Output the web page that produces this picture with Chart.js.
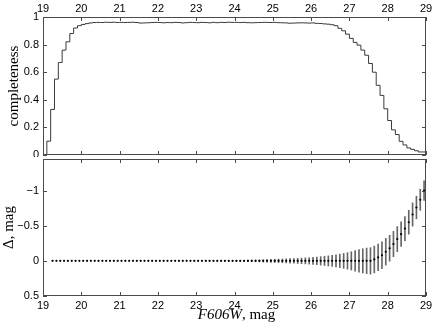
<!DOCTYPE html>
<html>
<head>
<meta charset="utf-8">
<script src="https://cdn.jsdelivr.net/npm/chart.js@4.4.0/dist/chart.umd.min.js"></script>
<style>
  body { margin: 0; background: #fff; }
  #wrap { position: relative; width: 436px; height: 329px; }
  .panel { position: absolute; left: 0; }
  #top { top: 0; }
  #bot { top: 155px; }
</style>
</head>
<body>
<div id="wrap">
  <div class="panel" id="top"><canvas id="compChart" width="436" height="157"></canvas></div>
  <div class="panel" id="bot"><canvas id="deltaChart" width="436" height="174"></canvas></div>
</div>
<script>
// bins of 0.1 mag from 19.0 to 29.0
var magStart = 19.0;
var binWidth = 0.1;
var magTicks = [19, 20, 21, 22, 23, 24, 25, 26, 27, 28, 29];
var compTicks = [0, 0.2, 0.4, 0.6, 0.8, 1];
var deltaTicks = [-1, -0.5, 0, 0.5];

// completeness per bin (19.0 ... 28.9)
var completeness = [
    0, 0, 0.10, 0.33, 0.55, 0.67, 0.76, 0.82, 0.88, 0.92,
    0.937, 0.946, 0.952, 0.957, 0.960,
    0.961, 0.960, 0.962, 0.961, 0.962, 0.960, 0.961, 0.960, 0.961, 0.962,
    0.960, 0.956, 0.957, 0.958, 0.960, 0.961, 0.960, 0.958, 0.960, 0.959,
    0.961, 0.960, 0.957, 0.959, 0.961, 0.960, 0.959, 0.961, 0.960, 0.958,
    0.961, 0.959, 0.961, 0.960, 0.962, 0.961, 0.961, 0.960, 0.961, 0.959,
    0.958, 0.959, 0.960, 0.961, 0.961, 0.960, 0.961, 0.959, 0.958, 0.957,
    0.955, 0.956, 0.957, 0.958, 0.957, 0.956, 0.957, 0.954, 0.953, 0.950,
    0.948, 0.944,
    0.937, 0.918, 0.900, 0.876, 0.845, 0.816, 0.796, 0.760, 0.723, 0.663,
    0.600, 0.505, 0.432, 0.335, 0.250, 0.182, 0.148, 0.099, 0.073, 0.051,
    0.041, 0.031, 0.022
];

// magnitude offset and its error at bin centres (19.25 ... 28.95)
var deltaStart = 19.25;
var deltaMag = [
    0, 0, 0, 0, 0, 0, 0, 0, 0, 0,
    0, 0, 0, 0, 0, 0, 0, 0, 0, 0,
    0, 0, 0, 0, 0, 0, 0, 0, 0, 0,
    0, 0, 0, 0, 0, 0, 0, 0, 0, 0,
    0, 0, 0, 0, 0, 0, 0, 0, 0, 0,
    0, 0, 0, 0, 0, 0, 0, 0, 0, 0,
    0, 0, 0, 0, 0, 0, 0, 0, 0, 0,
    0, 0, 0, 0, 0, 0, 0, 0, 0, 0,
    0, 0, 0, 0, -0.02, -0.05, -0.08, -0.13, -0.18, -0.24,
    -0.31, -0.38, -0.46, -0.55, -0.66, -0.76, -0.87, -1.0
];
var deltaErr = [
    0, 0, 0, 0, 0, 0, 0, 0, 0, 0,
    0, 0, 0, 0, 0, 0, 0, 0, 0, 0,
    0, 0, 0, 0, 0, 0, 0, 0, 0, 0,
    0, 0, 0, 0, 0, 0, 0, 0, 0, 0,
    0.003, 0.003, 0.004, 0.004, 0.005, 0.005, 0.006, 0.006,
    0.007, 0.008, 0.009, 0.010, 0.012, 0.013, 0.015, 0.017, 0.019, 0.021,
    0.023, 0.025, 0.027, 0.029, 0.031, 0.034, 0.037, 0.040, 0.043, 0.046,
    0.050, 0.055, 0.060, 0.066, 0.072, 0.079, 0.087, 0.096, 0.106, 0.117,
    0.130, 0.145, 0.160, 0.172, 0.182, 0.188, 0.190, 0.190, 0.190, 0.190,
    0.185, 0.180, 0.178, 0.175, 0.172, 0.170, 0.165, 0.160, 0.150, 0.140
];

var tickFont = { family: '"Liberation Sans", Arial, sans-serif', size: 11 };
var serif = '"Liberation Serif", "Times New Roman", serif';

// step line points: left edge of each bin, plus closing edge at 29
var compPoints = completeness.map(function(v, i) {
    return { x: magStart + i * binWidth, y: v };
});
compPoints.push({ x: magStart + completeness.length * binWidth, y: completeness[completeness.length - 1] });

var deltaPoints = deltaMag.map(function(v, i) {
    return { x: deltaStart + i * binWidth, y: v };
});
var errBars = deltaMag.map(function(v, i) {
    return { x: deltaStart + i * binWidth, y: [v - deltaErr[i], v + deltaErr[i]] };
});

// fixed axis sizes so both panels line up
function fixWidth(w) {
    return function(s) { s.width = w; s.paddingTop = 0; s.paddingBottom = 0; };
}
function fixHeight(h) {
    return function(s) { s.height = h; s.paddingLeft = 0; s.paddingRight = 0; };
}

// frame round the plot with inward ticks on all four sides
var boxPlugin = {
    id: 'box',
    afterDraw: function(chart) {
        var ctx = chart.ctx, a = chart.chartArea;
        var xs = chart.scales.x, ys = chart.scales.y;
        ctx.save();
        ctx.strokeStyle = '#4a4a4a';
        ctx.lineWidth = 1;
        ctx.strokeRect(a.left + 0.5, a.top + 0.5, a.right - a.left - 1, a.bottom - a.top - 1);
        ctx.beginPath();
        xs.ticks.forEach(function(t) {
            var px = Math.round(xs.getPixelForValue(t.value)) + 0.5;
            ctx.moveTo(px, a.top); ctx.lineTo(px, a.top + 4);
            ctx.moveTo(px, a.bottom); ctx.lineTo(px, a.bottom - 4);
        });
        ys.ticks.forEach(function(t) {
            var py = Math.round(ys.getPixelForValue(t.value)) + 0.5;
            ctx.moveTo(a.left, py); ctx.lineTo(a.left + 4, py);
            ctx.moveTo(a.right, py); ctx.lineTo(a.right - 4, py);
        });
        ctx.stroke();
        ctx.restore();
    }
};

// x title with italic filter name
var xTitlePlugin = {
    id: 'xTitle',
    afterDraw: function(chart) {
        var ctx = chart.ctx, a = chart.chartArea;
        ctx.save();
        ctx.fillStyle = '#000';
        ctx.textBaseline = 'alphabetic';
        ctx.font = 'italic 15px ' + serif;
        var w1 = ctx.measureText('F606W').width;
        ctx.font = '15px ' + serif;
        var w2 = ctx.measureText(', mag').width;
        var x0 = (a.left + a.right) / 2 + 2 - (w1 + w2) / 2;
        var y0 = 164;
        ctx.font = 'italic 15px ' + serif;
        ctx.fillText('F606W', x0, y0);
        ctx.font = '15px ' + serif;
        ctx.fillText(', mag', x0 + w1, y0);
        ctx.restore();
    }
};

var ctx = document.getElementById('compChart').getContext('2d');
var compChart = new Chart(ctx, {
    type: 'line',
    data: {
        datasets: [{
            data: compPoints,
            stepped: 'after',
            borderColor: '#3a3a3a',
            borderWidth: 1,
            pointRadius: 0,
            fill: false
        }]
    },
    options: {
        responsive: false,
        animation: false,
        layout: { padding: { left: 0, right: 10, top: 0, bottom: 2 } },
        plugins: { legend: { display: false }, tooltip: { enabled: false } },
        scales: {
            x: {
                type: 'linear',
                position: 'top',
                min: 19, max: 29,
                afterBuildTicks: function(s) { s.ticks = magTicks.map(function(v) { return { value: v }; }); },
                afterFit: fixHeight(17),
                grid: { display: false, drawTicks: false },
                border: { display: false },
                ticks: { font: tickFont, color: '#000', padding: 1, maxRotation: 0, autoSkip: false }
            },
            y: {
                min: 0, max: 1,
                afterBuildTicks: function(s) { s.ticks = compTicks.map(function(v) { return { value: v }; }); },
                afterFit: fixWidth(43),
                grid: { display: false, drawTicks: false },
                border: { display: false },
                ticks: {
                    font: tickFont, color: '#000', padding: 4,
                    callback: function(v) { return String(v); }
                },
                title: {
                    display: true,
                    text: 'completeness',
                    color: '#000',
                    font: { family: serif, size: 15 },
                    padding: { top: 5, bottom: 0 }
                }
            }
        }
    },
    plugins: [boxPlugin]
});

var ctx2 = document.getElementById('deltaChart').getContext('2d');
var deltaChart = new Chart(ctx2, {
    type: 'bar',
    data: {
        datasets: [{
            type: 'scatter',
            data: deltaPoints,
            pointRadius: 1.1,
            pointBackgroundColor: '#000',
            pointBorderWidth: 0,
            order: 0
        }, {
            type: 'bar',
            data: errBars,
            backgroundColor: '#666',
            borderWidth: 0,
            barThickness: 1,
            grouped: false,
            order: 1
        }]
    },
    options: {
        responsive: false,
        animation: false,
        layout: { padding: { left: 0, right: 10, top: 2, bottom: 0 } },
        plugins: { legend: { display: false }, tooltip: { enabled: false } },
        scales: {
            x: {
                type: 'linear',
                position: 'bottom',
                min: 19, max: 29,
                offset: false,
                afterBuildTicks: function(s) { s.ticks = magTicks.map(function(v) { return { value: v }; }); },
                afterFit: fixHeight(33),
                grid: { display: false, drawTicks: false, offset: false },
                border: { display: false },
                ticks: { font: tickFont, color: '#000', padding: 3, maxRotation: 0, autoSkip: false }
            },
            y: {
                type: 'linear',
                reverse: true,
                min: -1.45, max: 0.5,
                afterBuildTicks: function(s) { s.ticks = deltaTicks.map(function(v) { return { value: v }; }); },
                afterFit: fixWidth(43),
                grid: { display: false, drawTicks: false },
                border: { display: false },
                ticks: {
                    font: tickFont, color: '#000', padding: 4,
                    callback: function(v) { return String(v).replace('-', '\u2212'); }
                },
                title: {
                    display: true,
                    text: '\u0394, mag',
                    color: '#000',
                    font: { family: serif, size: 15 },
                    padding: { top: 0, bottom: 0 }
                }
            }
        }
    },
    plugins: [boxPlugin, xTitlePlugin]
});
</script>
</body>
</html>
